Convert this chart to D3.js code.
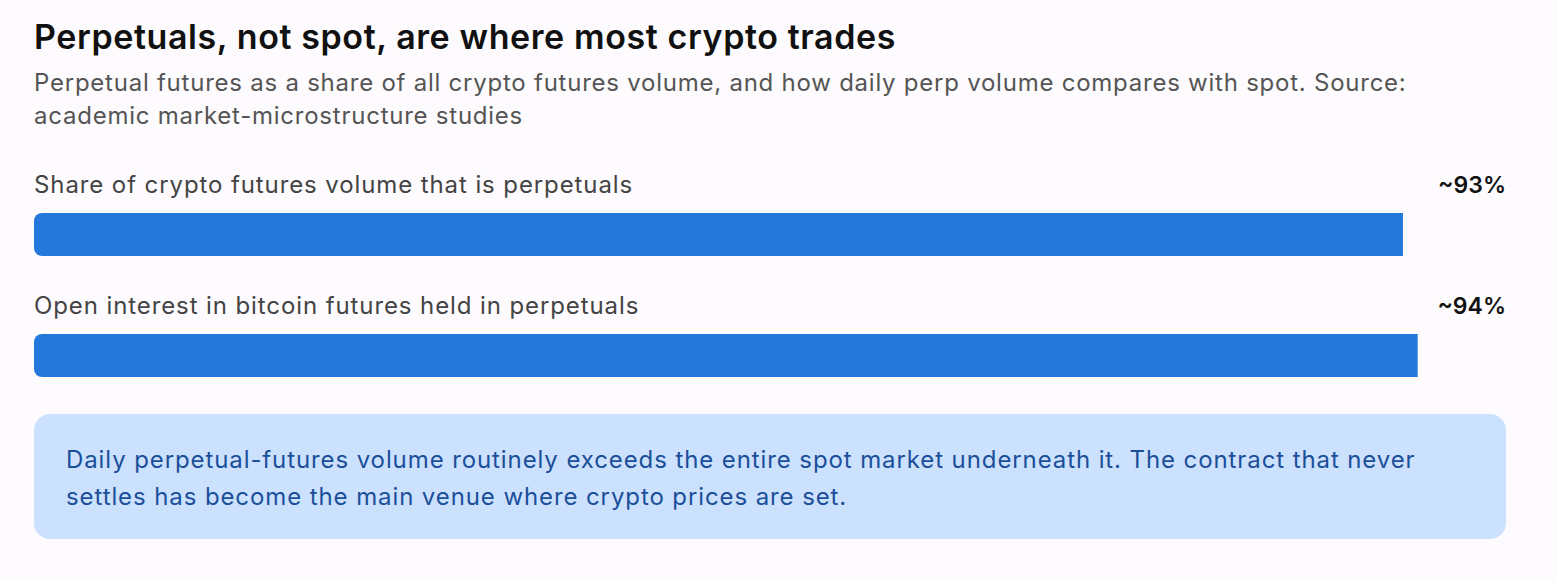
<!DOCTYPE html>
<html><head><meta charset="utf-8">
<script src="https://cdn.jsdelivr.net/npm/d3@7"></script>
<style>
html,body{margin:0;padding:0;background:#fdfbfd;}
svg{display:block;}
text{font-family:Inter,"Noto Sans",sans-serif;}
</style></head>
<body>
<svg id="chart" width="1558" height="582"></svg>
<script>
const title = "Perpetuals, not spot, are where most crypto trades";
const subtitleLines = ["Perpetual futures as a share of all crypto futures volume, and how daily perp volume compares with spot. Source:", "academic market-microstructure studies"];
const categories = ["Share of crypto futures volume that is perpetuals", "Open interest in bitcoin futures held in perpetuals"];
const values = [93, 94];
const valueLabels = ["~93%", "~94%"];
const noteLines = ["Daily perpetual-futures volume routinely exceeds the entire spot market underneath it. The contract that never", "settles has become the main venue where crypto prices are set."];

const svg = d3.select("#chart");
svg.append("rect").attr("width",1558).attr("height",582).attr("fill","#fdfbfd");

svg.append("text").attr("x",34).attr("y",49).text(title)
  .attr("font-size",34).attr("font-weight",600).attr("letter-spacing",0.6).attr("fill","#111");
svg.selectAll("text.sub").data(subtitleLines).join("text").attr("class","sub")
  .attr("x",34).attr("y",(d,i)=>91+i*33).text(d=>d)
  .attr("font-size",24).attr("letter-spacing",0.76).attr("fill","#555");

const x = d3.scaleLinear().domain([0,100]).range([34,1506]);
const y = d3.scaleBand().domain(categories).range([160,402]).paddingInner(0).paddingOuter(0);
const barH = 43, r = 8;

const g = svg.selectAll("g.row").data(categories).join("g").attr("class","row")
  .attr("transform",d=>`translate(0,${y(d)})`);
g.append("text").attr("x",34).attr("y",33).text(d=>d)
  .attr("font-size",24).attr("letter-spacing",0.9).attr("fill","#444");
g.append("text").attr("x",1506).attr("y",33).attr("text-anchor","end")
  .text((d,i)=>valueLabels[i]).attr("font-size",23).attr("font-weight",600).attr("fill","#111");
g.append("path").attr("fill","#2477db").attr("d",(d,i)=>{
  const x0 = x(0), x1 = x(values[i]), y0 = 53, y1 = y0+barH;
  return `M${x0+r},${y0}H${x1}V${y1}H${x0+r}A${r},${r} 0 0 1 ${x0},${y1-r}V${y0+r}A${r},${r} 0 0 1 ${x0+r},${y0}Z`;
});

svg.append("rect").attr("x",34).attr("y",414).attr("width",1472).attr("height",125)
  .attr("rx",16).attr("fill","#cbe1fd");
svg.selectAll("text.note").data(noteLines).join("text").attr("class","note")
  .attr("x",66).attr("y",(d,i)=>468+i*37).text(d=>d)
  .attr("font-size",24).attr("letter-spacing",0.9).attr("fill","#1b4f9a");
</script>
</body></html>
